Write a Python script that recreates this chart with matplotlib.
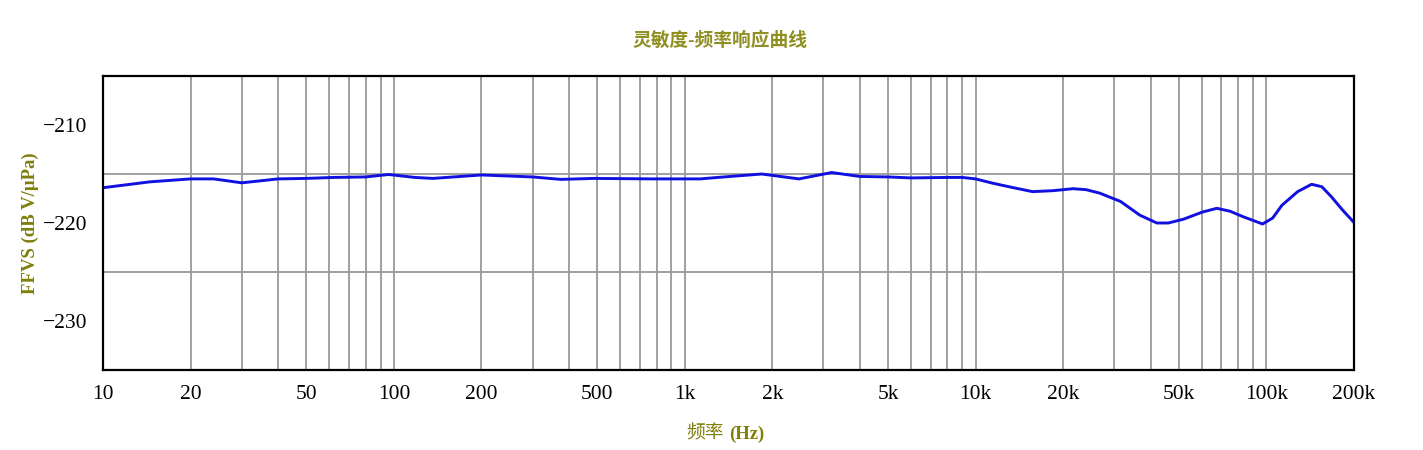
import matplotlib
matplotlib.use("Agg")
import matplotlib.pyplot as plt
from matplotlib.ticker import FixedLocator, FixedFormatter, NullFormatter

freq_hz = [10, 14.5, 20, 24, 30, 40, 50, 62, 80, 96, 118, 136, 200, 300, 375,
           485, 780, 1130, 1300, 1840, 2470, 3200, 4000, 5000, 6000, 8000,
           9000, 10000, 11500, 13500, 15700, 18500, 21600, 24000, 26700,
           31500, 36700, 42000, 46000, 52000, 60000, 67500, 75000, 83000,
           97000, 105000, 113000, 128000, 143000, 155000, 167000, 183000,
           200000]
ffvs_db = [-216.4, -215.8, -215.5, -215.5, -215.9, -215.5, -215.45, -215.35,
           -215.3, -215.05, -215.35, -215.45, -215.1, -215.3, -215.55,
           -215.45, -215.5, -215.5, -215.35, -215.0, -215.5, -214.85,
           -215.25, -215.3, -215.4, -215.35, -215.35, -215.5, -215.95,
           -216.4, -216.8, -216.7, -216.5, -216.6, -216.95, -217.8, -219.2,
           -220.0, -220.0, -219.6, -218.9, -218.5, -218.8, -219.35, -220.1,
           -219.5, -218.2, -216.8, -216.05, -216.3, -217.3, -218.7, -219.95]

xtick_values = [10, 20, 50, 100, 200, 500, 1000, 2000, 5000, 10000, 20000,
                50000, 100000, 200000]
xtick_labels = ["10", "20", "50", "100", "200", "500", "1k", "2k", "5k",
                "10k", "20k", "50k", "100k", "200k"]
ytick_values = [-210, -220, -230]
ytick_labels = ["\u2212210", "\u2212220", "\u2212230"]

title_text = "灵敏度-频率响应曲线"
xlabel_cn = "频率"
xlabel_unit = "(Hz)"
ylabel_text = "FFVS (dB V/μPa)"

fam = ["Liberation Serif", "Noto Sans CJK SC"]
plt.rcParams["font.family"] = fam

fig = plt.figure(figsize=(14.23, 4.5), dpi=100)
ax = fig.add_axes([0.0724, 0.1778, 0.8791, 0.6533])

ax.plot(freq_hz, ffvs_db, color="#1010e0", lw=2.1, solid_joinstyle="round")

ax.set_xscale("log")
ax.set_xlim(10, 200000)
ax.set_ylim(-235, -205)

minor = []
for d in [10, 100, 1000, 10000, 100000]:
    for m in range(1, 10):
        v = d * m
        if 10 <= v <= 200000:
            minor.append(v)
ax.xaxis.set_major_locator(FixedLocator(xtick_values))
ax.xaxis.set_major_formatter(FixedFormatter(xtick_labels))
ax.xaxis.set_minor_locator(FixedLocator(minor))
ax.xaxis.set_minor_formatter(NullFormatter())
ax.yaxis.set_major_locator(FixedLocator(ytick_values))
ax.yaxis.set_major_formatter(FixedFormatter(ytick_labels))
ax.yaxis.set_minor_locator(FixedLocator([-230, -225, -220, -215, -210]))

ax.grid(True, which="both", axis="x", color="#a0a0a0", lw=1.4)
ax.grid(True, which="minor", axis="y", color="#a0a0a0", lw=1.4)
ax.set_axisbelow(True)

ax.tick_params(which="both", length=0)
ax.tick_params(axis="x", labelsize=15.5, pad=11)
ax.tick_params(axis="y", labelsize=15.5, pad=11)

for s in ax.spines.values():
    s.set_linewidth(1.6)
    s.set_color("black")

fig.text(0.506, 0.91, title_text, ha="center", va="center", fontsize=13.5,
         color="#8f8f22", family=fam, fontweight="bold")
fig.text(724 / 1423, 0.025, xlabel_cn, ha="right", va="baseline", fontsize=13.5,
         color="#7f7f0a", family=fam)
fig.text(729 / 1423, 0.025, xlabel_unit, ha="left", va="baseline", fontsize=13.5,
         color="#7f7f0a", family=fam, fontweight="bold")
fig.text(0.021, 0.505, ylabel_text, ha="center", va="center", fontsize=13.5,
         color="#7f7f0a", family=fam, fontweight="bold", rotation=90)

fig.savefig("out.png", dpi=100)
